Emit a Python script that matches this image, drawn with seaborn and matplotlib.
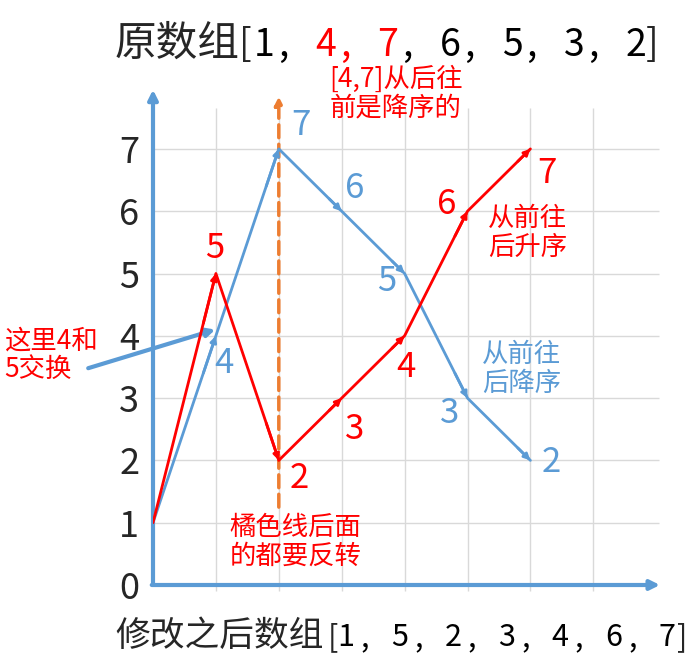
import matplotlib
matplotlib.use("Agg")
import matplotlib.pyplot as plt
import seaborn as sns
import pandas as pd

# 数据
positions = [0, 1, 2, 3, 4, 5, 6]
original = [1, 4, 7, 6, 5, 3, 2]
modified = [1, 5, 2, 3, 4, 6, 7]
y_ticks = [0, 1, 2, 3, 4, 5, 6, 7]
grid_x = [1, 2, 3, 4, 5, 6, 7]
pivot_x = 2

title_prefix = "原数组"
title_digit_colors = ["black", "#FF0000", "#FF0000", "black", "black", "black", "black"]
title_comma_colors = ["black", "#FF0000", "black", "black", "black", "black"]
xlabel_prefix = "修改之后数组"

# 标签偏移 (像素)
blue_offsets = [None, (8, -28), (22, 23), (13, 23), (-18, -8), (-18, -15), (21, -2)]
red_offsets = [None, (-1, 25), (20, -18), (13, -31), (1, -32), (-21, 7), (17, -25)]

BLUE = "#5B9BD5"
RED = "#FF0000"
ORANGE = "#ED7D31"
GRID = "#D9D9D9"

sns.set_style("white")
plt.rcParams['font.family'] = ['Noto Sans CJK SC', 'DejaVu Sans']

W, H = 697, 663
fig = plt.figure(figsize=(W / 100, H / 100), dpi=100)
ax = fig.add_axes([153 / W, 78 / H, 8.1 * 62.9 / W, 8.0 * 62.3 / H])
ax.set_xlim(0, 8.1)
ax.set_ylim(0, 8.0)
for s in ax.spines.values():
    s.set_visible(False)

# 网格
ax.hlines(y_ticks[1:], 0, 8.05, color=GRID, lw=1, zorder=0)
ax.vlines(grid_x, -0.09, 7.65, color=GRID, lw=1, zorder=0, clip_on=False)

# 坐标轴箭头
ax.annotate("", xy=(0, 7.95), xytext=(0, 0), annotation_clip=False,
            arrowprops=dict(arrowstyle="-|>", color=BLUE, lw=3, mutation_scale=14, shrinkA=0, shrinkB=0))
ax.annotate("", xy=(8.06, 0), xytext=(-0.02, 0), annotation_clip=False,
            arrowprops=dict(arrowstyle="-|>", color=BLUE, lw=3, mutation_scale=14, shrinkA=0, shrinkB=0))

ax.set_yticks(y_ticks)
ax.set_yticklabels([str(v) for v in y_ticks], fontsize=26)
ax.set_xticks([])
ax.tick_params(axis="y", length=0, pad=10)

# 折线
df = pd.DataFrame({"pos": positions, "original": original, "modified": modified})
sns.lineplot(data=df, x="pos", y="original", color=BLUE, lw=2, ax=ax, zorder=3)
sns.lineplot(data=df, x="pos", y="modified", color=RED, lw=2, ax=ax, zorder=4)
ax.set_xlabel("")
ax.set_ylabel("")


def add_heads(xs, ys, color, z):
    for i in range(1, len(xs)):
        x0, y0 = xs[i - 1], ys[i - 1]
        x1, y1 = xs[i], ys[i]
        ax.annotate("", xy=(x1, y1), xytext=(x0 + 0.8 * (x1 - x0), y0 + 0.8 * (y1 - y0)),
                    arrowprops=dict(arrowstyle="-|>", color=color, lw=2, mutation_scale=9,
                                    shrinkA=0, shrinkB=0), zorder=z)


add_heads(positions, original, BLUE, 3)
add_heads(positions, modified, RED, 4)

# 点标签
for x, y, off in zip(positions, original, blue_offsets):
    if off is None:
        continue
    ax.annotate(str(y), xy=(x, y), xytext=off, textcoords="offset pixels",
                ha="center", va="center", fontsize=25, color=BLUE)
for x, y, off in zip(positions, modified, red_offsets):
    if off is None:
        continue
    ax.annotate(str(y), xy=(x, y), xytext=off, textcoords="offset pixels",
                ha="center", va="center", fontsize=25, color=RED)

# 橘色虚线
ax.annotate("", xy=(pivot_x, 7.84), xytext=(pivot_x, 1.25), annotation_clip=False,
            arrowprops=dict(arrowstyle="-|>", color=ORANGE, lw=2.5, ls=(0, (3.7, 1.9)),
                            mutation_scale=12, shrinkA=0, shrinkB=0), zorder=2)

# 注释文字
ax.text(2.81, 7.89, "[4,7]从后往\n前是降序的", color=RED, fontsize=19, ha="left", va="center",
        clip_on=False, linespacing=1.1)
ax.text(5.33, 5.65, "从前往\n后升序", color=RED, fontsize=19, ha="left", va="center", linespacing=1.1)
ax.text(5.23, 3.47, "从前往\n后降序", color=BLUE, fontsize=19, ha="left", va="center", linespacing=1.1)
ax.text(1.22, 0.69, "橘色线后面\n的都要反转", color=RED, fontsize=19, ha="left", va="center", linespacing=1.1)
ax.text(-2.37, 3.69, "这里4和\n5交换", color=RED, fontsize=19, ha="left", va="center",
        clip_on=False, linespacing=1.1)
ax.annotate("", xy=(0.99, 4.1), xytext=(-1.03, 3.48), annotation_clip=False,
            arrowprops=dict(arrowstyle="-|>", color=BLUE, lw=3, mutation_scale=12, shrinkA=0, shrinkB=0))


# 标题和底部文字: 数组逐个字符放置
def bracket_list(prefix, values, digit_colors, comma_colors, base_y,
                 cjk_size, num_size, open_x, first_x, pitch, close_x):
    fig.text(115 / W, base_y, prefix, fontsize=cjk_size, ha="left", va="baseline")
    fig.text(open_x / W, base_y, "[", fontsize=num_size, ha="center", va="baseline")
    for i, v in enumerate(values):
        cx = first_x + pitch * i
        fig.text(cx / W, base_y, str(v), color=digit_colors[i], fontsize=num_size,
                 ha="center", va="baseline")
        if i < len(values) - 1:
            fig.text((cx + 19) / W, base_y, ",", color=comma_colors[i], fontsize=num_size,
                     ha="center", va="baseline")
    fig.text(close_x / W, base_y, "]", fontsize=num_size, ha="center", va="baseline")


bracket_list(title_prefix, original, title_digit_colors, title_comma_colors,
             (H - 56) / H, 30, 27, 245, 264, 62, 652)
bracket_list(xlabel_prefix, modified, ["black"] * 7, ["black"] * 6,
             (H - 646) / H, 25, 22, 333, 346, 53.5, 682)

fig.savefig("out.png", dpi=100)
